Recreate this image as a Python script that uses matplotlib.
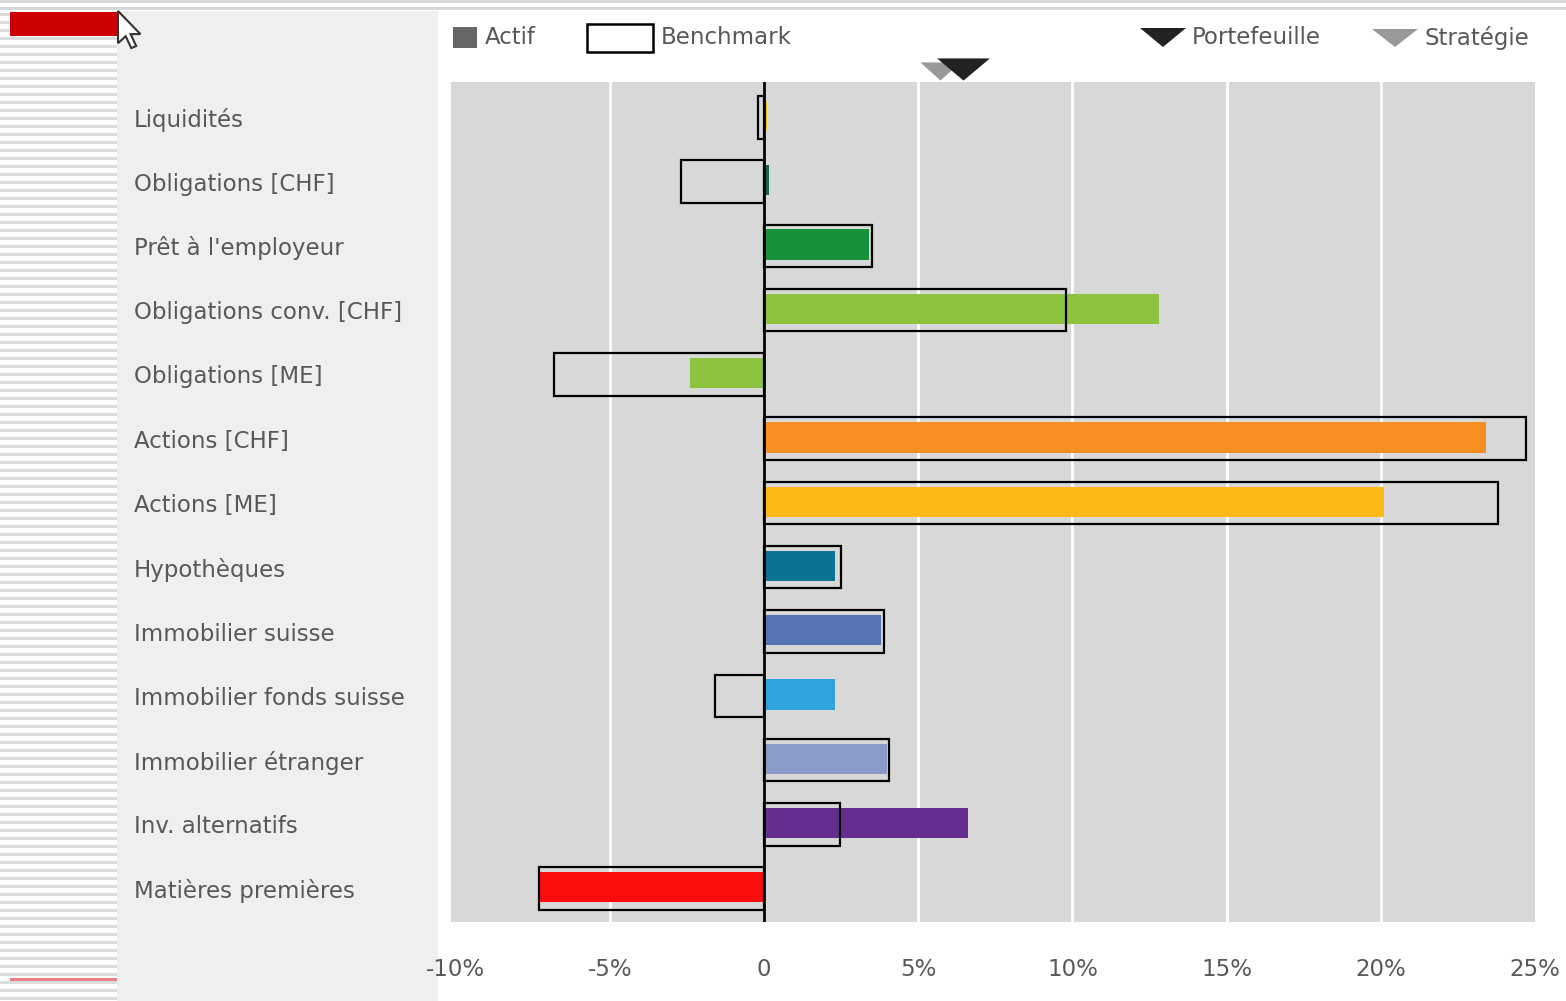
"""Allocation chart: actif vs benchmark per asset class."""

import matplotlib

matplotlib.use("Agg")

import matplotlib.pyplot as plt
from matplotlib.patches import Polygon, Rectangle

plt.rcParams["font.family"] = ["DejaVu Sans"]

# data (percent)
categories = [
    "Liquidités",
    "Obligations [CHF]",
    "Prêt à l'employeur",
    "Obligations conv. [CHF]",
    "Obligations [ME]",
    "Actions [CHF]",
    "Actions [ME]",
    "Hypothèques",
    "Immobilier suisse",
    "Immobilier fonds suisse",
    "Immobilier étranger",
    "Inv. alternatifs",
    "Matières premières",
]
actif = [0.1, 0.15, 3.4, 12.8, -2.4, 23.4, 20.1, 2.3, 3.8, 2.3, 4.0, 6.6, -7.25]
benchmark = [-0.2, -2.7, 3.5, 9.8, -6.8, 24.7, 23.8, 2.5, 3.9, -1.6, 4.05, 2.45, -7.3]
bar_colors = [
    "#f2c318", "#0b6b45", "#17913a", "#8cc43f", "#8cc43f", "#f68f1f",
    "#fcb815", "#0d7192", "#5673b6", "#2fa3dc", "#8a9bc7", "#662d91", "#fb0d0d",
]
portefeuille = 6.45
strategie = 5.7
x_ticks = [-10, -5, 0, 5, 10, 15, 20, 25]
x_labels = ["-10%", "-5%", "0", "5%", "10%", "15%", "20%", "25%"]

W, H = 1566, 1001
TXT = "#585858"
FS = 16.5


def fx(x):
    return x / W


def fy(y):
    return 1 - y / H


def rect(x0, y0, x1, y1, **kw):
    """Rectangle in pixel coords of the figure (y from the top)."""
    kw.setdefault("zorder", -5)
    return Rectangle((fx(x0), fy(y1)), fx(x1 - x0), (y1 - y0) / H,
                     transform=fig.transFigure, **kw)


fig = plt.figure(figsize=(W / 100, H / 100), dpi=100, facecolor="white")

# slide decoration: top rules, striped margin, label panel
for y0 in (0, 7):
    fig.add_artist(rect(0, y0, W, y0 + 2.5, color="#d9d9d9", lw=0))
for y0 in range(13, H, 8):
    fig.add_artist(rect(0, y0, 117, y0 + 3, color="#dcdcdc", lw=0))
fig.add_artist(rect(117, 11, 438, H, color="#efefef", lw=0))
fig.add_artist(rect(10, 12, 117, 36, color="#cc0000", lw=0))
fig.add_artist(rect(10, 978, 117, 980.5, color="#e98080", lw=0))

# mouse cursor
cursor = [(0, 0), (0, 23), (5.5, 18), (9.5, 26.5), (13, 25), (9, 16.5), (16, 16.5)]
fig.add_artist(Polygon([(fx(118 + 1.4 * a), fy(11 + 1.4 * b)) for a, b in cursor],
                       closed=True, transform=fig.transFigure,
                       facecolor="white", edgecolor="#333333", lw=1.5, zorder=5))

# legend
fig.add_artist(rect(453, 27, 477, 48, color="#666666", lw=0, zorder=2))
fig.text(fx(485), fy(38), "Actif", fontsize=FS, color=TXT, va="center")
fig.add_artist(rect(587, 24, 653, 52, facecolor="white", edgecolor="black",
                    lw=1.8, zorder=2))
fig.text(fx(661), fy(38), "Benchmark", fontsize=FS, color=TXT, va="center")
fig.add_artist(Polygon([(fx(1140), fy(28)), (fx(1186), fy(28)), (fx(1163), fy(47))],
                       transform=fig.transFigure, color="#222222", lw=0))
fig.text(fx(1192), fy(38), "Portefeuille", fontsize=FS, color=TXT, va="center")
fig.add_artist(Polygon([(fx(1372), fy(29)), (fx(1418), fy(29)), (fx(1395), fy(47))],
                       transform=fig.transFigure, color="#999999", lw=0))
fig.text(fx(1424), fy(38), "Stratégie", fontsize=FS, color=TXT, va="center")

ax = fig.add_axes([fx(451), fy(922), (1535 - 451) / W, (922 - 82) / H])
ax.set_facecolor("#d8d8d8")
for s in ax.spines.values():
    s.set_visible(False)

y = list(range(len(categories)))
for t in x_ticks[1:-1]:
    ax.axvline(t, color="white", lw=2, zorder=1)
ax.barh([v - 0.02 for v in y], actif, height=0.47, color=bar_colors, zorder=2)
ax.barh(y, benchmark, height=0.66, facecolor="none", edgecolor="black",
        linewidth=1.6, zorder=3)
ax.axvline(0, color="black", lw=2, zorder=4)

ax.set_xlim(-10.15, 25)
ax.set_ylim(12.52, -0.55)
ax.set_xticks(x_ticks)
ax.set_xticklabels(x_labels)
ax.tick_params(axis="x", length=0, pad=26, labelsize=FS, labelcolor=TXT)

ax.set_yticks(y)
ax.set_yticklabels(categories)
ax.tick_params(axis="y", length=0, pad=(451 - 134) * 0.72, labelsize=FS, labelcolor=TXT)
for lbl in ax.get_yticklabels():
    lbl.set_horizontalalignment("left")

# strategy / portfolio markers above the plot
top = ax.get_xaxis_transform()
ax.plot([strategie], [1.013], transform=top, clip_on=False, ls="none",
        marker=[(-1, 0.45), (1, 0.45), (0, -0.45)], markersize=29,
        color="#999999", markeredgewidth=0, zorder=5)
ax.plot([portefeuille], [1.0155], transform=top, clip_on=False, ls="none",
        marker=[(-1, 0.42), (1, 0.42), (0, -0.42)], markersize=38,
        color="#222222", markeredgewidth=0, zorder=6)

fig.savefig("out.png", dpi=100)
